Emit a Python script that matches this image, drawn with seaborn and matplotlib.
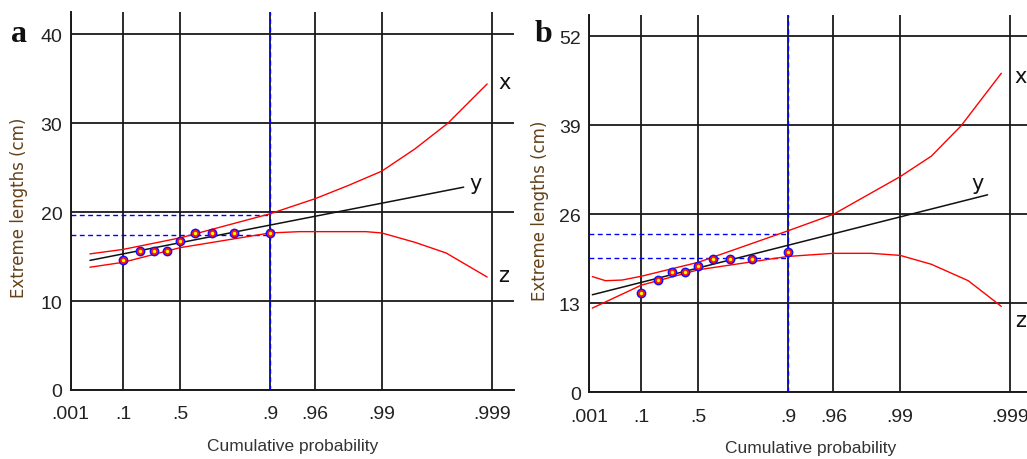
import numpy as np
import pandas as pd
import matplotlib
matplotlib.use("Agg")
import matplotlib.pyplot as plt
import seaborn as sns

# plotting positions i/(n+1) of the 9 observations
prob_obs = [0.1, 0.2, 0.3, 0.4, 0.5, 0.6, 0.7, 0.8, 0.9]
len_a = [14.6, 15.6, 15.65, 15.6, 16.7, 17.6, 17.65, 17.6, 17.6]
len_b = [14.5, 16.45, 17.5, 17.6, 18.5, 19.45, 19.4, 19.4, 20.5]

# fitted Gumbel line (straight on this paper), read at its two ends
fit_prob_a = [0.01, 0.9982]
fit_a = [14.57, 22.8]
fit_prob_b = [0.0016, 0.9984]
fit_b = [14.25, 28.85]

# confidence bands (x = upper, z = lower)
upper_prob_a = [0.01, 0.1, 0.5, 0.9, 0.96, 0.98, 0.99, 0.995, 0.9975, 0.9989]
upper_a = [15.3, 15.8, 17.1, 19.8, 21.5, 23.0, 24.6, 27.1, 30.0, 34.4]
lower_prob_a = [0.01, 0.1, 0.5, 0.9, 0.945, 0.986, 0.99, 0.995, 0.9974, 0.9989]
lower_a = [13.8, 14.35, 16.0, 17.65, 17.8, 17.8, 17.65, 16.6, 15.4, 12.7]

upper_prob_b = [0.0016, 0.0076, 0.032, 0.1, 0.5, 0.9, 0.96, 0.99, 0.9948, 0.9972, 0.9988]
upper_b = [16.9, 16.3, 16.4, 16.95, 19.0, 23.6, 26.0, 31.5, 34.5, 38.9, 46.6]
lower_prob_b = [0.0016, 0.1, 0.5, 0.9, 0.96, 0.9817, 0.99, 0.9948, 0.9976, 0.9988]
lower_b = [12.3, 15.65, 17.9, 19.85, 20.3, 20.3, 20.0, 18.7, 16.3, 12.55]

# dashed reading lines at p = .9
read_prob = 0.9
read_a = [19.7, 17.45]
read_b = [23.1, 19.55]

prob_ticks = [0.001, 0.1, 0.5, 0.9, 0.96, 0.99, 0.999]
prob_labels = ['.001', '.1', '.5', '.9', '.96', '.99', '.999']
yticks_a = [0, 10, 20, 30, 40]
yticks_b = [0, 13, 26, 39, 52]


def gumbel(p):
    # reduced variate of the Gumbel (extreme value) probability paper
    p = np.asarray(p, dtype=float)
    return -np.log(-np.log(p))


sns.set_style("white")
plt.rcParams['font.family'] = ['Liberation Sans', 'DejaVu Sans']

fig = plt.figure(figsize=(10.27, 4.6), dpi=100)
ax_a = fig.add_axes([0.0688, 0.150, 0.4314, 0.821])
ax_b = fig.add_axes([0.5735, 0.145, 0.4314, 0.820])

panels = [
    (ax_a, 'a', len_a, fit_prob_a, fit_a, upper_prob_a, upper_a, lower_prob_a, lower_a,
     read_a, yticks_a, 42.45, [(17, 2), (12, 4), (16, 2)], -0.096, (-0.1156, 0.945)),
    (ax_b, 'b', len_b, fit_prob_b, fit_b, upper_prob_b, upper_b, lower_prob_b, lower_b,
     read_b, yticks_b, 55.1, [(19, -3), (-10, 12), (19, -14)], -0.091, (-0.1027, 0.952)),
]

xmin, xmax = gumbel(0.001), 7.37

for (ax, letter, obs, fpx, fy, upx, uy, lpx, ly, reads, yt, ytop, offs, ylab_x, let_xy) in panels:
    ax.set_xlim(xmin, xmax)
    ax.set_ylim(0, ytop)

    # reading lines
    ax.axvline(gumbel(read_prob), color='#0000ff', lw=1.0, ls=(0, (3.5, 2.5)), zorder=2)
    ax.hlines(reads, xmin, gumbel(read_prob), color='#0000ff', lw=1.0,
              ls=(0, (3.5, 2.5)), zorder=2)

    up = pd.DataFrame({'w': gumbel(upx), 'len': uy})
    lo = pd.DataFrame({'w': gumbel(lpx), 'len': ly})
    fit = pd.DataFrame({'w': gumbel(fpx), 'len': fy})
    pts = pd.DataFrame({'w': gumbel(prob_obs), 'len': obs})

    sns.lineplot(data=up, x='w', y='len', ax=ax, color='#ff0000', lw=1.0, zorder=3)
    sns.lineplot(data=lo, x='w', y='len', ax=ax, color='#ff0000', lw=1.0, zorder=3)
    sns.lineplot(data=fit, x='w', y='len', ax=ax, color='#111111', lw=1.1, zorder=3)

    sns.scatterplot(data=pts, x='w', y='len', ax=ax, color='#1010ff', s=50,
                    linewidth=0, zorder=4)
    sns.scatterplot(data=pts, x='w', y='len', ax=ax, color='#ff1010', s=26,
                    linewidth=0, zorder=5)
    sns.scatterplot(data=pts, x='w', y='len', ax=ax, color='#ffff00', s=6,
                    linewidth=0, zorder=6)

    # curve names at the curve ends
    for name, df, off in zip(['x', 'y', 'z'], [up, fit, lo], offs):
        ax.annotate(name, (df['w'].iloc[-1], df['len'].iloc[-1]), xytext=off,
                    textcoords='offset pixels', ha='center', va='center',
                    fontsize=15, family='DejaVu Sans', color='#111111',
                    annotation_clip=False)

    ax.set_xticks(gumbel(prob_ticks))
    ax.set_xticklabels(prob_labels)
    ax.set_yticks(yt)
    ax.tick_params(length=0, labelsize=14, colors='#222222')
    ax.tick_params(axis='x', pad=11)
    ax.tick_params(axis='y', pad=6)

    ax.grid(True, color='#1a1a1a', lw=1.3)
    ax.set_axisbelow(True)
    for side in ['top', 'right']:
        ax.spines[side].set_visible(False)
    for side in ['left', 'bottom']:
        ax.spines[side].set_color('#1a1a1a')
        ax.spines[side].set_linewidth(1.4)

    ax.set_xlabel('Cumulative probability', fontsize=12.5, color='#333333')
    ax.xaxis.set_label_coords(0.5, -0.127)
    ax.set_ylabel('Extreme lengths (cm)', fontsize=12, color='#634119',
                  family='DejaVu Sans')
    ax.yaxis.set_label_coords(ylab_x, 0.485)

    ax.text(let_xy[0], let_xy[1], letter, transform=ax.transAxes,
            fontsize=23, fontweight='bold', family='Liberation Serif',
            ha='center', va='center', color='#111111')

fig.savefig('out.png', dpi=100)
plt.close(fig)
